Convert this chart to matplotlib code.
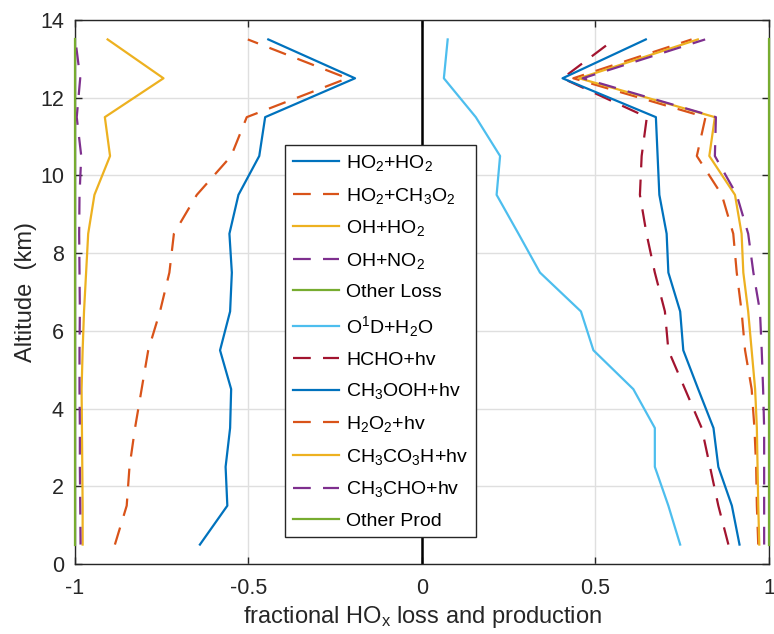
import numpy as np
import matplotlib.pyplot as plt

plt.rcParams['font.family'] = ['Liberation Sans', 'DejaVu Sans']
plt.rcParams['mathtext.default'] = 'regular'

# altitude bins (km)
alt = [0.5, 1.5, 2.5, 3.5, 4.5, 5.5, 6.5, 7.5, 8.5, 9.5, 10.5, 11.5, 12.5, 13.5]

# cumulative loss fractions (negative side)
ho2_ho2 = [-0.640, -0.561, -0.566, -0.553, -0.550, -0.582, -0.553, -0.548, -0.555, -0.529, -0.469, -0.452, -0.193, -0.443]
ho2_ch3o2 = [-0.885, -0.851, -0.843, -0.827, -0.808, -0.789, -0.755, -0.728, -0.715, -0.649, -0.550, -0.505, -0.215, -0.502]
oh_ho2 = [-0.978, -0.978, -0.979, -0.980, -0.981, -0.978, -0.974, -0.968, -0.962, -0.944, -0.899, -0.914, -0.745, -0.906]
oh_no2 = [-0.984, -0.985, -0.986, -0.986, -0.987, -0.987, -0.986, -0.987, -0.988, -0.987, -0.982, -0.995, -0.985, -0.999]
other_loss = [-1.0] * 14

# cumulative production fractions (positive side)
o1d_h2o = [0.744, 0.710, 0.671, 0.671, 0.609, 0.494, 0.458, 0.340, 0.278, 0.215, 0.225, 0.155, 0.063, 0.074]
hcho = [0.883, 0.854, 0.830, 0.806, 0.758, 0.710, 0.700, 0.671, 0.647, 0.628, 0.633, 0.648, 0.405, 0.554]
ch3ooh = [0.915, 0.893, 0.854, 0.840, 0.796, 0.753, 0.744, 0.710, 0.705, 0.684, 0.679, 0.674, 0.405, 0.645]
h2o2 = [0.969, 0.965, 0.963, 0.958, 0.950, 0.931, 0.921, 0.907, 0.897, 0.864, 0.792, 0.817, 0.436, 0.777]
ch3co3h = [0.972, 0.969, 0.967, 0.965, 0.960, 0.950, 0.940, 0.926, 0.921, 0.902, 0.828, 0.844, 0.453, 0.795]
ch3cho = [0.986, 0.986, 0.986, 0.986, 0.983, 0.979, 0.974, 0.955, 0.940, 0.907, 0.844, 0.847, 0.463, 0.816]
other_prod = [1.0] * 14

labels = ['HO$_2$+HO$_2$', 'HO$_2$+CH$_3$O$_2$', 'OH+HO$_2$', 'OH+NO$_2$', 'Other Loss',
          'O$^1$D+H$_2$O', 'HCHO+hv', 'CH$_3$OOH+hv', 'H$_2$O$_2$+hv',
          'CH$_3$CO$_3$H+hv', 'CH$_3$CHO+hv', 'Other Prod']
series = [ho2_ho2, ho2_ch3o2, oh_ho2, oh_no2, other_loss,
          o1d_h2o, hcho, ch3ooh, h2o2, ch3co3h, ch3cho, other_prod]
colors = ['#0072BD', '#D95319', '#EDB120', '#7E2F8E', '#77AC30',
          '#4DBEEE', '#A2142F', '#0072BD', '#D95319', '#EDB120', '#7E2F8E', '#77AC30']
dashed = [False, True, False, True, False, False, True, False, True, False, True, False]

fig = plt.figure(figsize=(7.74, 6.34), dpi=100)
ax = fig.add_axes([75/774, 70/634, 694/774, 544/634])

ax.axvline(0, color='k', lw=1.8, zorder=2)

handles = []
for x, lab, c, d in zip(series, labels, colors, dashed):
	edge = lab.startswith('Other')
	ln, = ax.plot(x, alt, color=c, lw=1.6, label=lab, zorder=5 if edge else 3,
				  clip_on=not edge)
	if d:
		ln.set_dashes((8, 5.5))
	handles.append(ln)

ax.set_xlim(-1, 1)
ax.set_ylim(0, 14)
ax.set_xticks([-1, -0.5, 0, 0.5, 1])
ax.set_xticklabels(['-1', '-0.5', '0', '0.5', '1'])
ax.set_yticks(np.arange(0, 15, 2))
ax.grid(True, color='#dfdfdf', lw=1)
ax.set_axisbelow(True)
ax.tick_params(direction='in', top=True, right=True, length=5, width=1,
			   labelsize=15.5, colors='#262626')
ax.tick_params(axis='x', pad=10)
ax.tick_params(axis='y', pad=8)
for s in ax.spines.values():
	s.set_color('#262626')
	s.set_linewidth(1)

ax.set_xlabel('fractional HO$_x$ loss and production', fontsize=17, color='#262626', labelpad=4)
ax.set_ylabel('Altitude  (km)', fontsize=17, color='#262626', labelpad=2)

leg = ax.legend(handles=handles, loc='upper left', bbox_to_anchor=(0.3026, 0.770),
				borderaxespad=0, fontsize=14, fancybox=False, framealpha=1,
				edgecolor='#262626', handlelength=2.4, handletextpad=0.35,
				labelspacing=0.65, borderpad=0.4)
leg.get_frame().set_linewidth(1)
leg.set_zorder(10)

fig.savefig('out.png', dpi=100)
